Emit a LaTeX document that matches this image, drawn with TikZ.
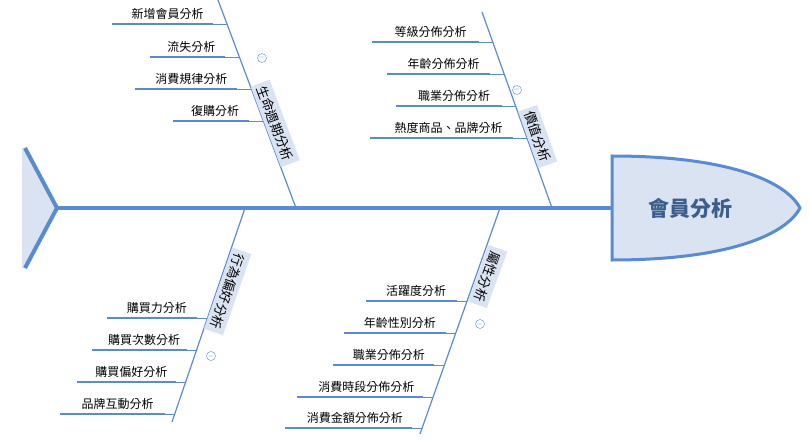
\documentclass[tikz,border=0pt]{standalone}
\usepackage{fontspec}
\setmainfont{Noto Sans CJK TC}
\usetikzlibrary{calc}
\definecolor{bone}{HTML}{5A8BD0}
\definecolor{boxfill}{HTML}{DAE3F1}
\definecolor{headtext}{HTML}{3B5E8E}
\tikzstyle{branch} = [rectangle, fill=boxfill, minimum width=3.3em, minimum height=1.9em, inner sep=4pt, font=\fontsize{13}{15}\selectfont]
\tikzstyle{leaf} = [inner sep=2pt, font=\fontsize{12}{14}\selectfont]
\tikzstyle{fold} = [circle, draw=bone, fill=white, minimum size=9pt, inner sep=0pt, font=\fontsize{8}{8}\selectfont, text=bone]

\begin{document}
\begin{tikzpicture}[x=1pt, y=-1pt]
    \useasboundingbox (0,0) rectangle (809,441);
	% tail and spine
	\coordinate (TailTop) at (25,148);
	\coordinate (TailTip) at (57,208);
	\coordinate (TailBot) at (25,268);
	\fill[boxfill] (TailTop) -- (TailTip) -- (TailBot) -- (22,268) -- (22,148) -- cycle;
	\draw[bone, line width=4pt, line join=miter] (TailTop) -- (TailTip) -- (TailBot);
	\coordinate (HeadL) at (612,208);
	\draw[bone, line width=4pt] (TailTip) -- (HeadL);
	% head
	\draw[bone, line width=3pt, fill=boxfill] (612,156) .. controls (725,156) and (785,180) .. (800,208) .. controls (785,236) and (725,260) .. (612,260) -- cycle;
	\node (Member) at (690,208) [text=headtext, font=\fontsize{21}{24}\selectfont\bfseries] {會員分析};
	% bones
	\coordinate (LifeTop) at (218,0);   \coordinate (LifeEnd) at (296,208);
	\coordinate (ValueTop) at (482,12); \coordinate (ValueEnd) at (552,208);
	\coordinate (BehavTop) at (245,208); \coordinate (BehavEnd) at (172,422);
	\coordinate (AttrTop) at (500,208); \coordinate (AttrEnd) at (420,434);
	\draw[bone, line width=1.2pt] (LifeTop) -- (LifeEnd);
	\draw[bone, line width=1.2pt] (ValueTop) -- (ValueEnd);
	\draw[bone, line width=1.2pt] (BehavTop) -- (BehavEnd);
	\draw[bone, line width=1.2pt] (AttrTop) -- (AttrEnd);
	\node (Life) at (265.6,127) [branch, rotate=-69.4, anchor=south, minimum width=8.3em] {生命週期分析};
	\node (Value) at (528,140) [branch, rotate=-70.3, anchor=south, minimum width=5.8em] {價值分析};
	\node (Behav) at (218,288) [branch, rotate=-109.3, anchor=south, minimum width=8.3em] {行為偏好分析};
	\node (Attr) at (478,273) [branch, rotate=-110, anchor=south, minimum width=5.8em] {屬性分析};
	\node (LifeFold) at (262,58) [fold] {$-$};
	\node (ValueFold) at (517,90) [fold] {$-$};
	\node (BehavFold) at (211,356) [fold] {$-$};
	\node (AttrFold) at (480,324) [fold] {$-$};
	% leaves
	\foreach \y/\x/\t [count=\i] in {24/112/新增會員分析, 57/150/流失分析, 89/135/消費規律分析, 121/173/復購分析}{
		\coordinate (LifeS\i) at (\x,\y);
		\coordinate (LifeE\i) at ({218+0.375*\y},\y);
		\draw[bone, line width=2.5pt] (LifeS\i) -- ($(LifeE\i)+(-14,0)$) coordinate (LifeM\i);
		\draw[bone, line width=0.7pt] (LifeM\i) -- (LifeE\i);
		\node (LifeLeaf\i) [leaf, anchor=south] at ($(LifeS\i)!0.55!(LifeM\i)+(0,-2)$) {\t};
	}
	\foreach \y/\x/\t [count=\i] in {42/372/等級分佈分析, 74/387/年齡分佈分析, 106/396/職業分佈分析, 138/370/熱度商品、品牌分析}{
		\coordinate (ValueS\i) at (\x,\y);
		\coordinate (ValueE\i) at ({482+0.357*(\y-12)},\y);
		\draw[bone, line width=2.5pt] (ValueS\i) -- ($(ValueE\i)+(-14,0)$) coordinate (ValueM\i);
		\draw[bone, line width=0.7pt] (ValueM\i) -- (ValueE\i);
		\node (ValueLeaf\i) [leaf, anchor=south] at ($(ValueS\i)!0.55!(ValueM\i)+(0,-2)$) {\t};
	}
	\foreach \y/\x/\t [count=\i] in {318/107/購買力分析, 350/92/購買次數分析, 382/77/購買偏好分析, 414/60/品牌互動分析}{
		\coordinate (BehavS\i) at (\x,\y);
		\coordinate (BehavE\i) at ({245-0.341*(\y-208)},\y);
		\draw[bone, line width=2.5pt] (BehavS\i) -- ($(BehavE\i)+(-10,0)$) coordinate (BehavM\i);
		\draw[bone, line width=0.7pt] (BehavM\i) -- (BehavE\i);
		\node (BehavLeaf\i) [leaf, anchor=south] at ($(BehavS\i)!0.55!(BehavM\i)+(0,-2)$) {\t};
	}
	\foreach \y/\x/\t [count=\i] in {301/366/活躍度分析, 333/344/年齡性別分析, 365/333/職業分佈分析, 397/297/消費時段分佈分析, 428/285/消費金額分佈分析}{
		\coordinate (AttrS\i) at (\x,\y);
		\coordinate (AttrE\i) at ({500-0.354*(\y-208)},\y);
		\draw[bone, line width=2.5pt] (AttrS\i) -- ($(AttrE\i)+(-10,0)$) coordinate (AttrM\i);
		\draw[bone, line width=0.7pt] (AttrM\i) -- (AttrE\i);
		\node (AttrLeaf\i) [leaf, anchor=south] at ($(AttrS\i)!0.55!(AttrM\i)+(0,-2)$) {\t};
	}
\end{tikzpicture}
\end{document}
